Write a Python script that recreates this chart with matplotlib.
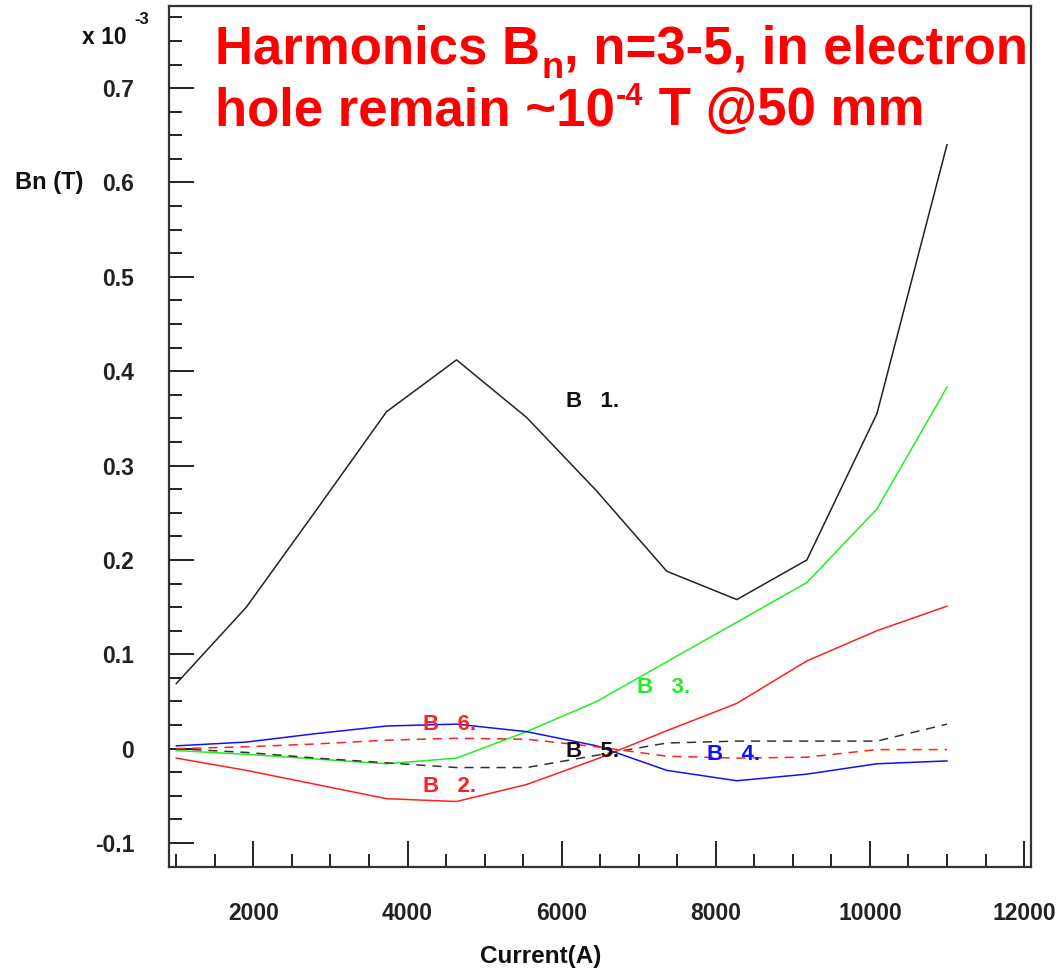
import matplotlib
matplotlib.use("Agg")
import matplotlib.pyplot as plt
from matplotlib.ticker import MultipleLocator, FuncFormatter

plt.rcParams["font.family"] = ["Liberation Sans", "DejaVu Sans"]

# excitation current (A) and harmonic amplitudes in units of 1e-3 T
current = [1000, 1909, 2818, 3727, 4636, 5545, 6455, 7364, 8273, 9182, 10091, 11000]
b1 = [0.069, 0.150, 0.253, 0.357, 0.412, 0.351, 0.273, 0.188, 0.158, 0.200, 0.355, 0.640]
b2 = [-0.010, -0.023, -0.038, -0.053, -0.056, -0.038, -0.011, 0.019, 0.048, 0.093, 0.125, 0.151]
b3 = [-0.002, -0.006, -0.011, -0.016, -0.010, 0.018, 0.050, 0.092, 0.134, 0.176, 0.254, 0.383]
b4 = [0.003, 0.007, 0.016, 0.024, 0.026, 0.018, 0.003, -0.023, -0.034, -0.027, -0.016, -0.013]
b5 = [0.000, -0.004, -0.010, -0.015, -0.020, -0.020, -0.007, 0.006, 0.008, 0.008, 0.008, 0.026]
b6 = [0.000, 0.002, 0.005, 0.009, 0.011, 0.010, 0.002, -0.008, -0.010, -0.009, -0.001, -0.001]

W, H = 1059, 973
fig = plt.figure(figsize=(W / 100, H / 100), dpi=100)
fig.patch.set_facecolor("white")

# axes box in pixels: left 169, right 1031, top 6, bottom 867
ax = fig.add_axes([169 / W, 1 - 867 / H, (1031 - 169) / W, (867 - 6) / H])

ax.plot(current, b1, color="#222222", lw=1.1)
ax.plot(current, b2, color="#ff2020", lw=1.1)
ax.plot(current, b3, color="#22ee22", lw=1.1)
ax.plot(current, b4, color="#1010ff", lw=1.1)
ax.plot(current, b5, color="#333333", lw=1.1, ls=(0, (6, 4.5)))
ax.plot(current, b6, color="#ff2020", lw=1.1, ls=(0, (6, 4.5)))

ax.set_xlim(905, 12090)
ax.set_ylim(-0.1254, 0.787)

ax.xaxis.set_major_locator(MultipleLocator(2000))
ax.xaxis.set_minor_locator(MultipleLocator(500))
ax.yaxis.set_major_locator(MultipleLocator(0.1))
ax.yaxis.set_minor_locator(MultipleLocator(0.025))


def fmt_y(v, pos):
    v = round(v, 3)
    if abs(v) < 1e-9:
        return "0"
    return f"{v:g}"


ax.yaxis.set_major_formatter(FuncFormatter(fmt_y))
ax.xaxis.set_major_formatter(FuncFormatter(lambda v, p: f"{int(round(v))}"))

ax.tick_params(axis="both", which="both", direction="in", top=False, right=False,
               colors="#222222", width=1.4)
ax.tick_params(axis="y", which="major", length=18, pad=25, labelsize=16.5)
ax.tick_params(axis="y", which="minor", length=9.5)
ax.tick_params(axis="x", which="major", length=19, pad=25, labelsize=16.5)
ax.tick_params(axis="x", which="minor", length=9.5)
for lab in ax.get_xticklabels() + ax.get_yticklabels():
    lab.set_fontweight("bold")

for side, sp in ax.spines.items():
    sp.set_linewidth(1.6)
    sp.set_color("#333333")

# curve labels
lab_kw = dict(fontsize=16, fontweight="bold", va="center", ha="left")
ax.text(6060, 0.368, "B   1.", color="#111111", **lab_kw)
ax.text(6980, 0.065, "B   3.", color="#22ee22", **lab_kw)
ax.text(4200, 0.026, "B   6.", color="#ff2020", **lab_kw)
ax.text(4200, -0.040, "B   2.", color="#ff2020", **lab_kw)
ax.text(6060, -0.003, "B   5.", color="#111111", **lab_kw)
ax.text(7880, -0.006, "B   4.", color="#1010ff", **lab_kw)

# axis annotations
fig.text(541 / W, 1 - 957 / H, "Current(A)", fontsize=17.5, fontweight="bold",
         ha="center", va="center", color="#111111")
fig.text(15 / W, 1 - 182 / H, "Bn (T)", fontsize=17, fontweight="bold",
         ha="left", va="center", color="#111111")
fig.text(127 / W, 1 - 37 / H, "x 10", fontsize=16.5, fontweight="bold",
         ha="right", va="center", color="#111111")
fig.text(134 / W, 1 - 19 / H, "-3", fontsize=12, fontweight="bold",
         ha="left", va="center", color="#111111")

# headline: pieces laid out left to right, (text, size, baseline shift in px)
renderer = fig.canvas.get_renderer()


def headline(x_px, base_px, pieces):
    x = x_px
    for txt, size, shift in pieces:
        t = fig.text(x / W, 1 - (base_px - shift) / H, txt, fontsize=size,
                     fontweight="bold", color="#ff0000", ha="left", va="baseline")
        x = t.get_window_extent(renderer).x1 + 1


headline(215, 64, [("Harmonics B", 38, 0), ("n", 26, -14),
                   (", n=3-5, in electron", 38, 0)])
headline(215, 125, [("hole remain ~10", 38, 0), ("-4", 22, 20),
                    (" T @50 mm", 38, 0)])

fig.savefig("out.png", dpi=100, facecolor="white")
